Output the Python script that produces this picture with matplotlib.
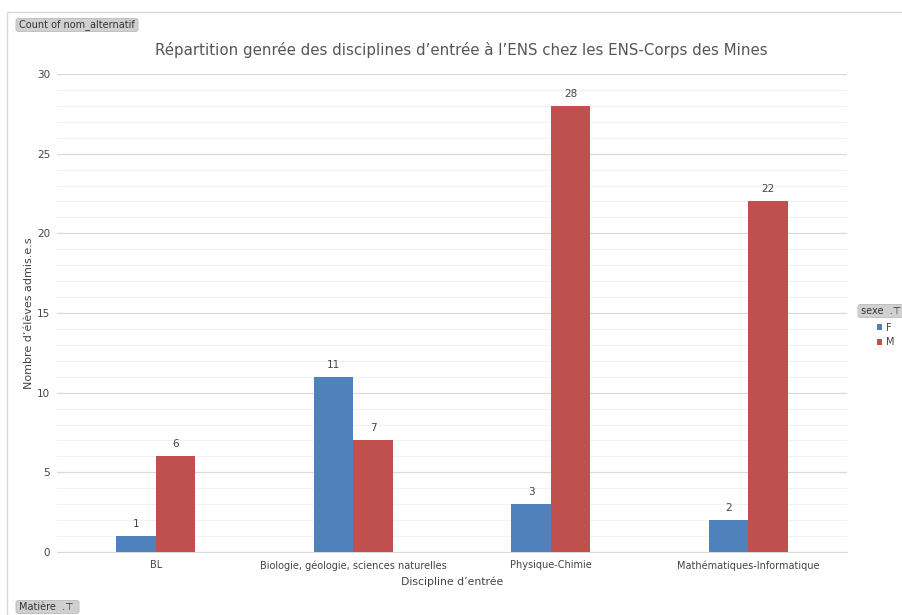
import numpy as np
import matplotlib.pyplot as plt
from matplotlib.patches import Rectangle, FancyBboxPatch

# Data
disciplines = ['BL', 'Biologie, géologie, sciences naturelles', 'Physique-Chimie',
               'Mathématiques-Informatique']
f_counts = [1, 11, 3, 2]
m_counts = [6, 7, 28, 22]

blue = '#4f81bd'
red = '#c0504d'
txt = '#444444'

fig = plt.figure(figsize=(9.03, 6.15), dpi=100)
ax = fig.add_axes([57 / 903, 1 - 552 / 615, 790 / 903, 478 / 615])

# outer frame of the pivot chart
fig.patches.append(Rectangle((7 / 903, -0.01), 1.0, 1 - 12 / 615 + 0.01,
                             transform=fig.transFigure, fill=False,
                             edgecolor='#d9d9d9', lw=1))

x = np.arange(len(disciplines))
w = 0.2
bf = ax.bar(x - w / 2, f_counts, w, color=blue, label='F', zorder=3)
bm = ax.bar(x + w / 2, m_counts, w, color=red, label='M', zorder=3)

for bars in (bf, bm):
    for b in bars:
        ax.text(b.get_x() + b.get_width() / 2, b.get_height() + 0.45,
                str(int(b.get_height())), ha='center', va='bottom',
                fontsize=7.5, color=txt)

ax.set_xlim(-0.5, 3.5)
ax.set_ylim(0, 30)
ax.set_yticks(range(0, 31, 5))
ax.set_yticks(range(0, 31, 1), minor=True)
ax.grid(axis='y', which='major', color='#d9d9d9', lw=0.9, zorder=0)
ax.grid(axis='y', which='minor', color='#f2f2f2', lw=0.8, zorder=0)
ax.set_xticks(x)
ax.set_xticklabels(disciplines)
ax.tick_params(axis='both', which='both', length=0, labelsize=7, colors=txt)
ax.tick_params(axis='y', labelsize=7.5, pad=5)
ax.tick_params(axis='x', pad=6)
for s in ['top', 'right', 'left']:
    ax.spines[s].set_visible(False)
ax.spines['bottom'].set_color('#d9d9d9')

ax.set_xlabel('Discipline d’entrée', fontsize=7.8, color=txt, labelpad=4)
ax.set_ylabel('Nombre d’élèves admis.e.s', fontsize=8, color=txt, labelpad=2)
fig.text(461 / 903, 1 - 50 / 615,
         'Répartition genrée des disciplines d’entrée à l’ENS chez les ENS-Corps des Mines',
         ha='center', va='center', fontsize=10.8, color='#555555')

# pivot field buttons
def button(xc, yc, label, w_px, h_px=13):
    fig.patches.append(FancyBboxPatch((xc / 903, 1 - (yc + h_px / 2) / 615),
                                      w_px / 903, h_px / 615,
                                      boxstyle='round,pad=0,rounding_size=0.003',
                                      transform=fig.transFigure,
                                      facecolor='#d0d0d0', edgecolor='#bbbbbb', lw=0.6))
    fig.text((xc + 3) / 903, 1 - yc / 615, label, ha='left', va='center',
             fontsize=7, color='#333333')

button(16, 25, 'Count of nom_alternatif', 122)
button(16, 607, 'Matière  .⊤', 63)
button(858, 311, 'sexe  .⊤', 45)

leg = fig.legend(handles=[bf, bm], labels=['F', 'M'], loc='upper left',
                 bbox_to_anchor=(872 / 903, 1 - 318 / 615), frameon=False,
                 fontsize=7, handlelength=0.55, handleheight=0.55,
                 handletextpad=0.4, labelspacing=0.45, borderpad=0)
for t in leg.get_texts():
    t.set_color(txt)

fig.savefig('out.png', dpi=100)
